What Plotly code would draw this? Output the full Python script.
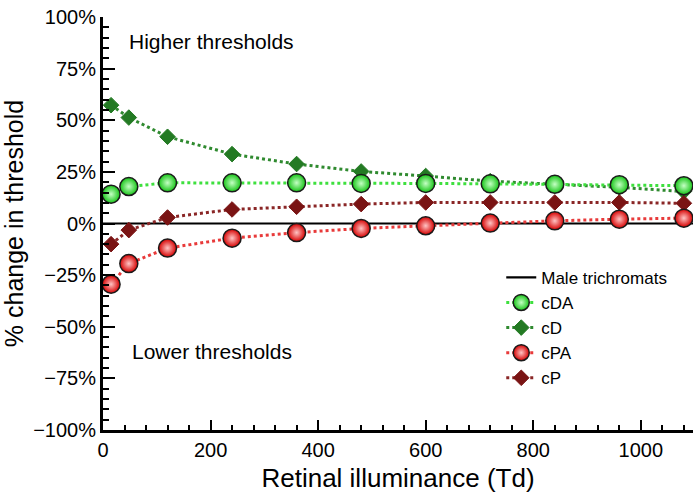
import plotly.graph_objects as go

# ---- data ----
illum = [15, 48, 120, 240, 360, 480, 600, 720, 840, 960, 1080]
cDA = [14.2, 17.9, 19.7, 19.7, 19.7, 19.4, 19.4, 19.2, 19.0, 18.8, 18.3]
cD = [57.3, 51.3, 42.0, 33.6, 28.8, 25.2, 23.0, 20.5, 19.0, 17.5, 15.5]
cPA = [-29.4, -19.4, -11.9, -7.1, -4.4, -2.4, -1.1, 0.2, 1.3, 2.1, 2.6]
cP = [-10.0, -3.2, 2.9, 6.8, 8.1, 9.4, 10.2, 10.2, 10.2, 10.2, 9.8]
male_x = [0, 1100]
male_y = [0, 0]
y_ticks = [-100, -75, -50, -25, 0, 25, 50, 75, 100]
y_ticktext = [("\u2212" if v < 0 else "") + f"{abs(v)}%" for v in y_ticks]
x_ticks = [0, 200, 400, 600, 800, 1000]

FONT = "Liberation Sans, Arial, Helvetica, sans-serif"

fig = go.Figure()

fig.add_trace(go.Scatter(
    x=male_x, y=male_y, mode="lines", name="Male trichromats",
    line=dict(color="black", width=2.2)))

def circle_trace(x, y, name, line_col, edge_col, center_col):
    return go.Scatter(
        x=x, y=y, mode="lines+markers", name=name, cliponaxis=False,
        line=dict(color=line_col, width=3, dash="dot"),
        marker=dict(symbol="circle", size=18, color=edge_col,
                    gradient=dict(type="radial", color=center_col),
                    line=dict(color="#1a1a1a", width=1.5)))

def diamond_trace(x, y, name, line_col, fill_col):
    return go.Scatter(
        x=x, y=y, mode="lines+markers", name=name, cliponaxis=False,
        line=dict(color=line_col, width=3, dash="dot"),
        marker=dict(symbol="diamond", size=12, color=fill_col,
                    line=dict(color=fill_col, width=1)))

# draw order: diamonds below circles
fig.add_trace(diamond_trace(illum, cD, "cD", "#2f8a2f", "#237a23"))
fig.add_trace(diamond_trace(illum, cP, "cP", "#8a2626", "#7a1414"))
fig.add_trace(circle_trace(illum, cDA, "cDA", "#3ee03e", "#16c416", "#c4ffc4"))
fig.add_trace(circle_trace(illum, cPA, "cPA", "#e83a3a", "#d60000", "#ffc4c4"))

# legend order
order = {"Male trichromats": 1, "cDA": 2, "cD": 3, "cPA": 4, "cP": 5}
for tr in fig.data:
    tr.legendrank = order[tr.name]

fig.update_layout(
    width=693, height=497,
    margin=dict(l=103, r=0, t=17, b=67),
    paper_bgcolor="white", plot_bgcolor="white",
    font=dict(family=FONT, color="black", size=19),
    showlegend=True,
    legend=dict(x=0.675, y=0.412, xanchor="left", yanchor="top",
                bgcolor="rgba(255,255,255,0)", font=dict(size=17),
                tracegroupgap=0),
    xaxis=dict(
        range=[0, 1097], tickvals=x_ticks, showgrid=False, zeroline=False,
        showline=True, linecolor="black", linewidth=3,
        ticks="inside", ticklen=10, tickwidth=2, tickcolor="black",
        tickfont=dict(size=20),
        minor=dict(dtick=40, ticks="inside", ticklen=5, tickwidth=1.5,
                   tickcolor="black", showgrid=False),
        title=dict(text="Retinal illuminance (Td)", font=dict(size=26),
                   standoff=9),
    ),
    yaxis=dict(
        range=[-100, 100], tickmode="array", tickvals=y_ticks,
        ticktext=y_ticktext,
        showgrid=False, zeroline=False,
        showline=True, linecolor="black", linewidth=3,
        ticks="inside", ticklen=12, tickwidth=2, tickcolor="black",
        tickfont=dict(size=20),
        minor=dict(dtick=5, ticks="inside", ticklen=6, tickwidth=1.5,
                   tickcolor="black", showgrid=False),
        title=dict(text="% change in threshold", font=dict(size=25),
                   standoff=5),
    ),
    annotations=[
        dict(text="Higher thresholds", xref="paper", yref="y", x=0.04, y=88,
             xanchor="left", yanchor="middle", showarrow=False,
             font=dict(size=21)),
        dict(text="Lower thresholds", xref="paper", yref="y", x=0.045, y=-62,
             xanchor="left", yanchor="middle", showarrow=False,
             font=dict(size=21)),
    ],
)

fig.write_html("out.html")
